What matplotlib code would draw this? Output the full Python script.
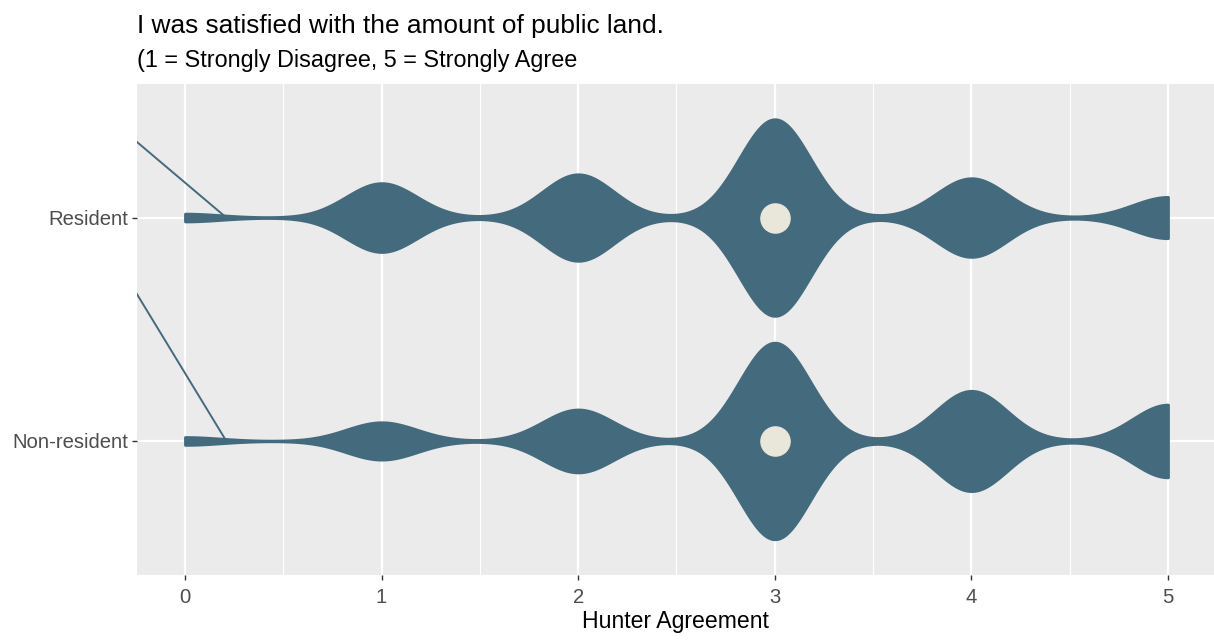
import numpy as np
import matplotlib
matplotlib.use("Agg")
import matplotlib.pyplot as plt
from matplotlib.ticker import MultipleLocator

# reponses (echelle 0-5), effectifs relatifs
ratings = [0, 1, 2, 3, 4, 5]
resident_counts = [4, 35, 44, 100, 40, 21]
nonresident_counts = [4, 19, 32, 100, 51, 37]
groups = ["Non-resident", "Resident"]

# segments parasites a gauche du panneau
leader_x = [-0.26, 0.21]
leader_resident_y = [2.35, 2.0]
leader_nonresident_y = [1.68, 1.0]

violin_col = "#446a7e"
point_col = "#e9e7da"
bw = 0.18

plt.rcParams["font.family"] = ["Liberation Sans", "DejaVu Sans"]

data = [np.repeat(ratings, nonresident_counts), np.repeat(ratings, resident_counts)]

fig = plt.figure(figsize=(12.14, 6.4), dpi=100)
ax = fig.add_axes([137 / 1214, 65 / 640, 1077 / 1214, 491.5 / 640])
ax.set_facecolor("#ebebeb")

parts = ax.violinplot(data, positions=[1, 2], orientation="horizontal", widths=0.88,
                      showextrema=False, points=600,
                      bw_method=lambda k: bw / np.std(k.dataset, ddof=1))
for body in parts["bodies"]:
    body.set_facecolor(violin_col)
    body.set_edgecolor(violin_col)
    body.set_linewidth(2)
    body.set_alpha(1)
    body.set_zorder(3)

ax.plot(leader_x, leader_resident_y, color=violin_col, lw=1.4, zorder=3)
ax.plot(leader_x, leader_nonresident_y, color=violin_col, lw=1.4, zorder=3)

medians = [np.median(d) for d in data]
ax.plot(medians, [1, 2], "o", ms=21, color=point_col, mec=point_col, zorder=4)

ax.set_xlim(-0.244, 5.234)
ax.set_ylim(0.4, 2.6)
ax.set_xticks(ratings)
ax.set_yticks([1, 2])
ax.set_yticklabels(groups)
ax.xaxis.set_minor_locator(MultipleLocator(0.5))
ax.grid(which="major", color="white", lw=1.6, zorder=0)
ax.grid(which="minor", axis="x", color="white", lw=0.8, zorder=0)
ax.set_axisbelow(True)
for s in ax.spines.values():
    s.set_visible(False)
ax.tick_params(which="major", length=3.5, width=1, color="#333333",
               labelsize=14.6, labelcolor="#4d4d4d", pad=3)
ax.tick_params(which="minor", length=0)
ax.tick_params(axis="x", pad=6)

ax.set_xlabel("Hunter Agreement", fontsize=16.6, color="black", labelpad=2)

fig.text(137 / 1214, 1 - 33 / 640, "I was satisfied with the amount of public land.",
         fontsize=18.9, va="baseline", ha="left")
fig.text(137 / 1214, 1 - 67 / 640, "(1 = Strongly Disagree, 5 = Strongly Agree",
         fontsize=16.8, va="baseline", ha="left")

fig.savefig("out.png", dpi=100)
